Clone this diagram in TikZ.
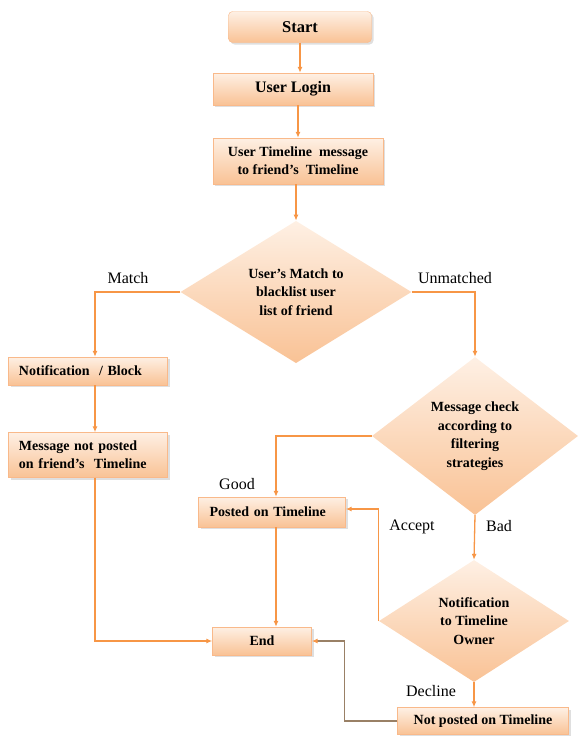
\documentclass[tikz,border=0pt]{standalone}
\usepackage{fontspec}
\setmainfont{Liberation Serif}
\usetikzlibrary{shapes.geometric,shadows,arrows.meta}
\definecolor{lineorange}{HTML}{F79646}
\definecolor{boxedge}{HTML}{F9B98A}
\definecolor{peachlight}{HTML}{FEF0E4}
\definecolor{peach}{HTML}{F9C295}
\tikzset{
  stepbox/.style={draw=boxedge, top color=peachlight, bottom color=peach,
    drop shadow={opacity=0.25, shadow xshift=2pt, shadow yshift=-2pt},
    font=\fontsize{14}{18}\selectfont\bfseries, inner sep=2pt, align=center},
  decision/.style={diamond, draw=none, top color=peachlight, bottom color=peach,
    inner sep=0pt, align=center, font=\fontsize{14}{18.5}\selectfont\bfseries},
  flow/.style={->, lineorange, line width=1.3pt},
  lbl/.style={font=\fontsize{16}{18}\selectfont}
}
\begin{document}
\begin{tikzpicture}[x=1pt,y=-1pt,>={Latex[length=6pt,width=5pt]}]
\useasboundingbox (0,0) rectangle (579,736);
% boxes
\node[stepbox, rounded corners=4pt, minimum width=143, minimum height=31,
  font=\fontsize{16.5}{18}\selectfont\bfseries] (start) at (300,27) {Start};
\node[stepbox, minimum width=160, minimum height=32,
  font=\fontsize{16}{18}\selectfont\bfseries] (login) at (293,89) {User Login};
\node[stepbox, minimum width=170, minimum height=46] (msg) at (298,161)
  {User Timeline\ \ message\\to friend’s\ \ Timeline};
\node[decision, minimum width=231, minimum height=132] (chkA) at (296,292)
  {User’s Match to\\blacklist user\\list of friend};
\node[stepbox, minimum width=159, minimum height=28, text width=138, align=left] (notif) at (88,371)
  {Notification\ \ / Block};
\node[stepbox, minimum width=159, minimum height=45, text width=138, align=left] (notpost) at (88,455)
  {Message not posted\\on friend’s\ \ Timeline};
\node[decision, minimum width=206, minimum height=158] (chkB) at (475,436)
  {Message check\\according to\\filtering\\strategies};
\node[stepbox, minimum width=147, minimum height=30, text width=125, align=left] (posted) at (272,512)
  {Posted on Timeline};
\node[decision, minimum width=190, minimum height=122] (chkC) at (474,621)
  {Notification\\to Timeline\\Owner};
\node[stepbox, minimum width=99, minimum height=28] (endn) at (262,641) {End};
\node[stepbox, minimum width=171, minimum height=27] (decl) at (483,721)
  {Not posted on Timeline};
% labels
\node[lbl] (lmatch) at (128,278) {Match};
\node[lbl] (lunmatch) at (455,278) {Unmatched};
\node[lbl] (lgood) at (237,484) {Good};
\node[lbl] (laccept) at (412,527) {Accept};
\node[lbl] (lbad) at (499,526) {Bad};
\node[lbl] (ldecline) at (431,691) {Decline};
% connectors
\draw[flow] (start.south) -- (start.south |- login.north);
\draw[flow] (msg.north |- login.south) -- (msg.north);
\draw[flow] (msg.south -| chkA.north) -- (chkA.north);
\draw[flow] (chkA.west) -| ([xshift=7pt]notif.north);
\draw[flow] ([xshift=7pt]notif.south) -- ([xshift=7pt]notpost.north);
\draw[flow] ([xshift=7pt]notpost.south) |- (endn.west);
\draw[flow] (chkA.east) -| (chkB.north);
\draw[flow] (chkB.west) -| ([xshift=4pt]posted.north);
\draw[flow] ([xshift=4pt]posted.south) -- ([xshift=4pt]posted.south |- endn.north);
\draw[flow] (chkB.south) -- (chkC.north);
\draw[flow] (chkC.west) |- ([yshift=3pt]posted.east);
\draw[flow] (chkC.south) -- (chkC.south |- decl.north);
\draw[gray!60!brown, line width=1.5pt, -{Latex[length=6pt,width=5pt,color=lineorange]}]
  (decl.west) -- ++(-53,0) |- (endn.east);
\end{tikzpicture}
\end{document}
